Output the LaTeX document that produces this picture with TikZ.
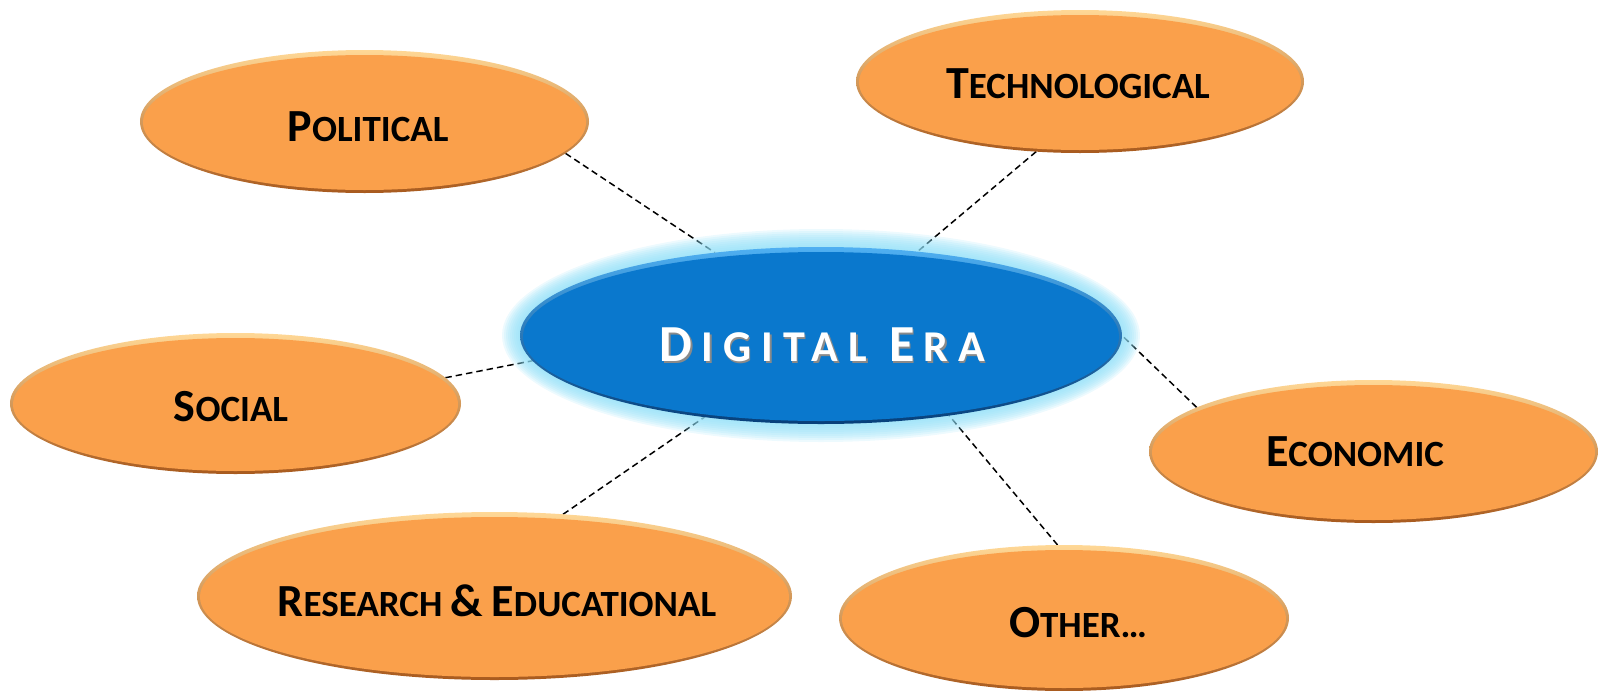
\documentclass[tikz,border=0pt]{standalone}
\usepackage{fontspec}
\setmainfont{Carlito}
\usetikzlibrary{shapes.geometric}
\definecolor{orfill}{HTML}{FAA04B}
\definecolor{ortop}{HTML}{FFD896}
\definecolor{orbot}{HTML}{A85A1E}
\definecolor{blfill}{HTML}{0A78CD}
\definecolor{bltop}{HTML}{4FB0F2}
\definecolor{blbot}{HTML}{063F7A}
\definecolor{glowc}{HTML}{8FDFF8}
\definecolor{txtshade}{HTML}{8A8A8A}
\newcommand\mysc[2]{{\fontsize{46}{46}\selectfont #1}{\fontsize{37}{37}\selectfont #2}}
\newcommand\eraB[1]{{\fontsize{52}{52}\selectfont\addfontfeature{LetterSpace=20}#1}}
\newcommand\eraS[1]{{\fontsize{44}{44}\selectfont\addfontfeature{LetterSpace=23}#1}}
\newcommand\eratext{\eraB{D}\kern9pt\eraS{IGITAL}\kern22pt\eraB{E}\kern9pt\eraS{RA}}
\pgfdeclarelayer{bg}
\pgfsetlayers{bg,main}
\begin{document}
\begin{tikzpicture}[x=1pt, y=-1pt,
  oval/.style n args={2}{ellipse, inner sep=0pt, outer sep=0pt,
    minimum width={2*#1}, minimum height={2*#2}},
  orange oval/.style n args={2}{oval={#1}{#2}, top color=ortop, bottom color=orbot,
    path picture={\fill[orfill] ([yshift=-1pt]path picture bounding box.center)
      ellipse [x radius={#1*1pt-3pt}, y radius={#2*1pt-4pt}];}},
  blue oval/.style n args={2}{oval={#1}{#2}, top color=bltop, bottom color=blbot,
    path picture={\fill[blfill] ([yshift=-1pt]path picture bounding box.center)
      ellipse [x radius={#1*1pt-3pt}, y radius={#2*1pt-4pt}];}},
  lbl/.style={anchor=base, inner sep=0pt, font=\bfseries\fontsize{37}{37}\selectfont, text=black},
  link/.style={draw=black, line width=1.5pt, dash pattern=on 6.5pt off 4pt}]
\useasboundingbox (0,0) rectangle (1599,691);

% glow around the centre
\foreach \k in {18,16,...,2}
  \fill[glowc, opacity=0.16] (821,335.5) ellipse [x radius={(301+\k)*1pt}, y radius={(88.5+\k)*1pt}];

\node[blue oval={301}{88.5}] (era) at (821,335.5) {};
\node[orange oval={224.5}{71.5}] (pol) at (364.5,121.5) {};
\node[orange oval={224}{71.5}] (tech) at (1080,81.5) {};
\node[orange oval={225.5}{70.5}] (soc) at (235.5,403.5) {};
\node[orange oval={224.5}{71.5}] (eco) at (1373.5,451.5) {};
\node[orange oval={297.5}{84}] (res) at (494.5,596) {};
\node[orange oval={225}{73}] (oth) at (1064,618) {};

\node[lbl] (poltxt) at (368,141) {\mysc{P}{OLITICAL}};
\node[lbl] (techtxt) at (1078,98) {\mysc{T}{ECHNOLOGICAL}};
\node[lbl] (soctxt) at (231,421) {\mysc{S}{OCIAL}};
\node[lbl] (ecotxt) at (1355,466) {\mysc{E}{CONOMIC}};
\node[lbl] (restxt) at (497,616) {\mysc{R}{ESEARCH} {\fontsize{46}{46}\selectfont\&} \mysc{E}{DUCATIONAL}};
\node[lbl] (othtxt) at (1078,637) {\mysc{O}{THER\ldots}};

\node[lbl, text=txtshade] (erashadow) at (824,363) {\eratext};
\node[lbl, text=white] (eratxt) at (822.5,361) {\eratext};

\begin{pgfonlayer}{bg}
\draw[link] (pol.-9.7) -- (era.142.9);
\draw[link] (tech.-122.6) -- (era.41.6);
\draw[link] (soc.7.1) -- (era.-175.1);
\draw[link] (eco.166.5) -- (era.0.7);
\draw[link] (res.50.4) -- (era.-145.7);
\draw[link] (oth.95.1) -- (era.-32.1);
\end{pgfonlayer}
\end{tikzpicture}
\end{document}
